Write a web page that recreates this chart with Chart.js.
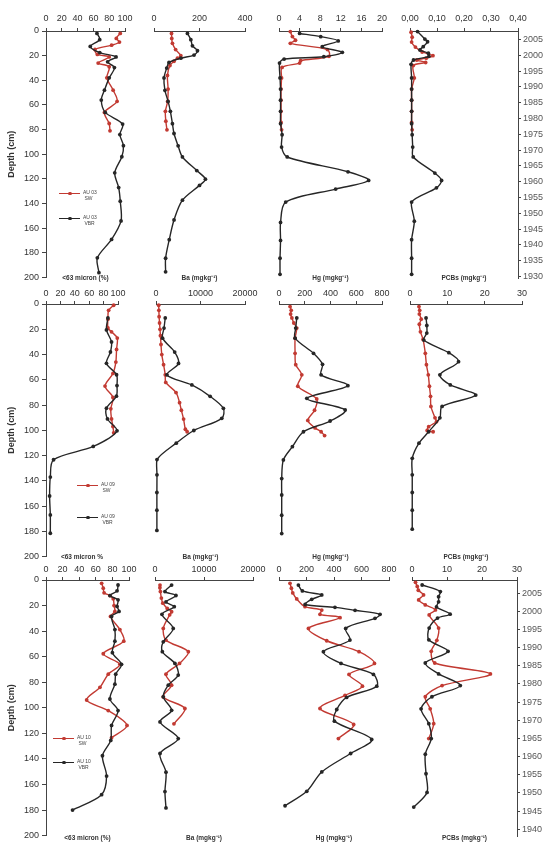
<!DOCTYPE html>
<html>
<head>
<meta charset="utf-8">
<script src="https://cdn.jsdelivr.net/npm/chart.js@4.4.1/dist/chart.umd.min.js"></script>
<style>
  html, body { margin: 0; padding: 0; background: #fff; overflow: hidden; }
  #page { position: relative; width: 544px; height: 843px; font-family: "Liberation Sans", Arial, sans-serif; }
  canvas { position: absolute; }
  .ttl { position: absolute; font-size: 6.5px; font-weight: bold; color: #333; white-space: nowrap; transform: translate(-50%, -50%); }
  .lgline { position: absolute; height: 0; border-top: 1.2px solid; width: 21px; }
  .lgdot { position: absolute; width: 3.5px; height: 3.5px; border-radius: 50%; }
  .lgtxt { position: absolute; font-size: 5px; line-height: 5.5px; color: #444; white-space: nowrap; }
</style>
</head>
<body>
<div id="page"></div>
<script>
// depth (cm), value  -- AU 03
const grain03Sw = [[2,94],[6,89],[9,93],[11.5,83],[15,62],[19,65],[21,80],[26,66],[29,80],[38,77],[48,85],[57,90],[66,74],[75,80],[81,81]];
const grain03Vbr = [[2,64.5],[7,68],[12.5,56],[17.5,68],[21,88.7],[25,78],[29.7,86.6],[38,80],[48,74],[56,70],[66,75],[75.5,97],[84,93.5],[93,98],[102,96],[115,87],[127,92],[138,94],[154,95],[169,83],[184,65],[196,67]];
const ba03Sw = [[2,77],[6,78],[10,81],[15,95],[20,118],[22,103],[24.5,88],[28,70],[36,59],[47,62],[57,60],[65,50],[73,52],[80,57]];
const ba03Vbr = [[2,147],[7,162],[12,169],[16,191],[19.5,176],[22,118],[25.5,66],[30,56],[38,44],[48,48],[57,62],[65,72],[75,81],[83,88],[93,106],[102,125],[113,188],[120,226],[125,200],[137,125],[153,88],[169,67],[184,51],[195,51]];
const hg03Sw = [[0.5,2.2],[4.5,2.6],[7.5,3.2],[10,2.2],[15,9.4],[20.5,9.7],[24,4.2],[26,4.0],[29.5,0.6],[38,0.5],[47,0.4],[56,0.4],[65,0.4],[74,0.4],[80,0.5]];
const hg03Vbr = [[2,4.0],[4.6,8.1],[8,11.5],[12.7,8.4],[17.3,12.3],[20.8,8.7],[22.7,1.0],[26,0.1],[38,0.2],[47,0.3],[56,0.3],[65,0.3],[75,0.3],[84,0.6],[94,0.5],[102,1.6],[114,13.4],[121,17.4],[128,11],[138.5,1.3],[155,0.3],[169.6,0.3],[184,0.2],[197,0.2]];
const pcb03Sw = [[1,0.004],[5,0.008],[9,0.006],[13,0.02],[17,0.045],[20,0.085],[22,0.06],[23.5,0.025],[25.5,0.058],[28,0.012],[38,0.016],[47,0.006],[56,0.006],[65,0.006],[74,0.006],[80,0.008]];
const pcb03Vbr = [[0.5,0.028],[6.5,0.055],[8.7,0.065],[12.7,0.049],[15.4,0.037],[18,0.068],[20.5,0.07],[23.5,0.013],[27,0.004],[38,0.006],[47,0.006],[56,0.006],[65,0.006],[75,0.006],[84,0.008],[94,0.01],[102,0.012],[115,0.092],[121,0.117],[127,0.098],[138.5,0.006],[154,0.016],[169,0.006],[184,0.006],[197,0.006]];

// AU 09
const grain09Sw = [[1,94],[5,87],[12,86],[19,86],[22,91],[27,99],[36,98],[46,97],[55,93],[65,82],[74,93],[83,90],[91,91],[97,93],[102,94]];
const grain09Vbr = [[11,86],[20.5,84],[30,91],[38,89.5],[47,84],[56,98],[64.6,98.6],[73,97.8],[82.5,84],[91,85.4],[100.4,98.6],[112.8,65.6],[123.3,10.5],[137,6],[152,5],[167,6],[181.5,6]];
const ba09Sw = [[1,600],[5,650],[10,700],[15,800],[20,900],[25,1000],[32,1120],[40,1300],[48,1700],[56,2080],[62,2200],[70,4500],[78,5300],[84,5700],[91,6200],[99,6600],[101,7000]];
const ba09Vbr = [[11,2080],[19,1800],[27,1480],[38,4200],[47,5060],[56,2460],[64,8060],[73,12160],[82.5,15140],[90.4,14780],[100,8500],[110,4550],[123,220],[135,220],[149,200],[163,200],[179,200]];
const hg09Sw = [[2,86],[5,95],[8,90],[11,100],[15,115],[19,138],[27,125],[39,125],[48,130],[56,177],[65,146],[75,293],[84,276],[92,224],[98,280],[101,327],[104,354]];
const hg09Vbr = [[11,138],[19,130],[27,125],[39,268],[47.7,338],[56,327],[64.6,535],[74.6,216],[83.8,514],[92.5,397],[101,190],[112.8,104],[123.3,34],[138,21],[151,21],[167,21],[181.5,21]];
const pcb09Sw = [[2,2.4],[5,2.6],[8,2.5],[12,3.0],[16,2.5],[22,2.8],[28,3.5],[39,4.1],[48,4.4],[56,4.9],[65,5.2],[73,5.5],[81,5.6],[90,6.7],[93,7.1],[97,5.0],[100,4.6],[101,6.2]];
const pcb09Vbr = [[11,4.3],[17,4.5],[23,4.5],[28.5,3.7],[38.5,10.4],[45.6,13],[56,8],[64,10.8],[72,17.6],[81,8.6],[90,8],[101,5],[110,2.4],[122,0.6],[135,0.6],[149,0.6],[163,0.6],[178,0.6]];

// AU 10
const grain10Sw = [[2.6,67],[6.4,69],[10,70],[12.2,77],[14.7,81],[20,82],[24.6,83],[28.5,77.7],[38.8,89],[47.9,93.7],[57.7,69],[66,89],[73.7,75],[84,65],[93.9,49],[102.2,75],[113.8,97.6],[123.4,79]];
const grain10Vbr = [[3.9,86.8],[8.5,85.6],[12.2,77],[15.5,86.8],[20.7,85.6],[24.6,88],[28.5,79],[38.8,83],[47.9,83],[56.9,80],[66,91],[73.7,84],[81.5,83],[93.1,77],[102.2,86.8],[113.8,79],[125.5,78],[137.5,68],[153.4,73],[168,67],[180,32]];
const ba10Sw = [[3.9,1020],[6,1000],[9,1100],[14,1300],[18,1600],[22,2500],[24.6,3390],[27,3000],[37.5,1690],[46.6,2240],[55.6,6800],[64.7,5000],[73,2240],[81.5,3390],[90.6,1690],[99.6,6100],[111.5,3870]];
const ba10Vbr = [[3.9,3390],[9,2030],[12,4270],[17,2240],[20.7,3930],[26.6,1420],[37.5,3720],[47.9,1690],[55.6,1500],[64.7,4070],[73.7,4740],[81.5,2710],[90.6,1690],[101,3390],[110,1020],[122.9,4740],[134.5,1020],[149,2240],[164,2030],[176.7,2240]];
const hg10Sw = [[2.6,80],[6.4,90],[10,100],[14.7,129],[20.7,189],[23.3,311],[26.6,298],[29.2,444],[37.5,214],[47.1,347],[55.6,582],[64.7,694],[73.2,509],[82.3,607],[89.5,480],[99.6,298],[112,543],[122.9,432]];
const hg10Vbr = [[3.9,141],[8.5,170],[11.6,311],[15,238],[19,190],[21.2,407],[23.5,553],[26.6,735],[29.7,698],[37.5,485],[46.6,516],[55.6,323],[64.7,451],[73.2,687],[82.3,711],[91,492],[100.4,420],[109.4,403],[123.6,674],[134.5,521],[148.8,311],[163.8,202],[175,44]];
const pcb10Sw = [[1.8,1],[5,1.5],[8,1.8],[11.6,3.3],[15.5,1.9],[19.4,3.8],[23.3,6.7],[27.2,4.9],[37.5,7.6],[47,7.1],[55.6,5.5],[64.7,6.5],[73.2,22.4],[82.3,8.6],[91,3.8],[100.4,5.2],[112,6.2],[123.6,4.8]];
const pcb10Vbr = [[3.9,2.9],[9,8.1],[13,7.6],[17,7.6],[21,7.0],[26.6,10.9],[29.7,7.3],[37.5,4.9],[46.6,4.8],[55.6,10.3],[64.7,3.8],[73.2,7.6],[82.3,13.8],[91,5.7],[100.4,2.6],[112,4.8],[123.6,5.5],[135.8,3.8],[151,4],[165.6,4.3],[177,0.5]];

// year scales on the right
const years03 = [1930,1935,1940,1945,1950,1955,1960,1965,1970,1975,1980,1985,1990,1995,2000,2005];
const years10 = [1940,1945,1950,1955,1960,1965,1970,1975,1980,1985,1990,1995,2000,2005];

const RED = '#c23a32';
const BLACK = '#262626';
const AXIS = '#444';
const page = document.getElementById('page');

Chart.defaults.font.family = "'Liberation Sans', Arial, sans-serif";
Chart.defaults.color = '#333';

const plain = v => String(v);
const comma = v => v.toFixed(2).replace('.', ',');
const toXY = arr => arr.map(([d, v]) => ({ x: v, y: d }));

const rows = [
  { top: 31, bottom: 278, lblPad: 4, padB: 8, core: 'AU 03', legend: [59, 193, 218],
    years: { min: 1929.5, max: 2007.7, ticks: years03 },
    titles: ['<63 micron (%)', 'Ba (mgkg\u207B\u00B9)', 'Hg (mgkg\u207B\u00B9)', 'PCBs (mgkg\u207B\u00B9)'],
    panels: [
      { left: 46, right: 125, max: 100, step: 20, sw: grain03Sw, vbr: grain03Vbr, depthAxis: true },
      { left: 154, right: 245, max: 400, step: 200, sw: ba03Sw, vbr: ba03Vbr },
      { left: 279, right: 382, max: 20, step: 4, sw: hg03Sw, vbr: hg03Vbr },
      { left: 410, right: 518, max: 0.4, step: 0.1, fmt: comma, sw: pcb03Sw, vbr: pcb03Vbr, years: true }
    ] },
  { top: 304, bottom: 557, lblPad: 2, padB: 8, core: 'AU 09', legend: [77, 485, 517],
    titles: ['<63 micron %', 'Ba (mgkg\u207B\u00B9)', 'Hg (mgkg\u207B\u00B9)', 'PCBs (mgkg\u207B\u00B9)'],
    panels: [
      { left: 46, right: 118, max: 100, step: 20, sw: grain09Sw, vbr: grain09Vbr, depthAxis: true },
      { left: 156, right: 245, max: 20000, step: 10000, sw: ba09Sw, vbr: ba09Vbr },
      { left: 279, right: 382, max: 800, step: 200, sw: hg09Sw, vbr: hg09Vbr },
      { left: 410, right: 522, max: 30, step: 10, sw: pcb09Sw, vbr: pcb09Vbr }
    ] },
  { top: 580, bottom: 838, lblPad: 2, padB: 6, core: 'AU 10', legend: [53, 738, 762],
    years: { min: 1938, max: 2008.6, ticks: years10 },
    titles: ['<63 micron (%)', 'Ba (mgkg\u207B\u00B9)', 'Hg (mgkg\u207B\u00B9)', 'PCBs (mgkg\u207B\u00B9)'],
    panels: [
      { left: 46, right: 129, max: 100, step: 20, sw: grain10Sw, vbr: grain10Vbr, depthAxis: true },
      { left: 155, right: 253, max: 20000, step: 10000, sw: ba10Sw, vbr: ba10Vbr },
      { left: 279, right: 389, max: 800, step: 200, sw: hg10Sw, vbr: hg10Vbr },
      { left: 412, right: 517, max: 30, step: 10, sw: pcb10Sw, vbr: pcb10Vbr, years: true }
    ] }
];

function series(data, color) {
  return {
    data: toXY(data),
    showLine: true,
    borderColor: color,
    backgroundColor: color,
    borderWidth: 1.4,
    pointRadius: 1.9,
    pointBorderWidth: 0,
    tension: 0.3,
    clip: false
  };
}

function makePanel(row, p) {
  const xH = 20, yW = 44, yrW = 25;
  const padL = p.depthAxis ? yW + 2 : 22;
  const padR = p.years && row.years ? yrW : 20;
  const padT = xH + 8;
  const w = p.right - p.left, h = row.bottom - row.top;

  const cv = document.createElement('canvas');
  cv.width = w + padL + padR;
  cv.height = h + padT + row.padB;
  cv.style.left = (p.left - padL) + 'px';
  cv.style.top = (row.top - padT) + 'px';
  page.appendChild(cv);

  const scales = {
    x: {
      type: 'linear', position: 'top', min: 0, max: p.max,
      ticks: { stepSize: p.step, padding: row.lblPad, maxRotation: 0, autoSkip: false,
               callback: p.fmt || plain, font: { size: 9 } },
      grid: { drawOnChartArea: false, tickLength: 3, color: AXIS },
      border: { color: AXIS },
      afterFit: s => { s.height = xH; }
    },
    y: {
      type: 'linear', reverse: true, min: 0, max: 200, display: !!p.depthAxis,
      ticks: { stepSize: 20, padding: 3, font: { size: 9 } },
      grid: { drawOnChartArea: false, tickLength: 4, color: AXIS },
      border: { color: AXIS },
      title: { display: true, text: 'Depth (cm)', font: { size: 9, weight: 'bold' }, padding: { top: 4, bottom: 0 } }
    }
  };
  if (p.depthAxis) scales.y.afterFit = s => { s.width = yW; };
  if (p.years && row.years) {
    scales.year = {
      type: 'linear', position: 'right', min: row.years.min, max: row.years.max,
      afterBuildTicks: s => { s.ticks = row.years.ticks.map(v => ({ value: v })); },
      ticks: { padding: 2, color: '#555', font: { size: 9 }, callback: plain },
      grid: { drawOnChartArea: false, tickLength: 3, color: AXIS },
      border: { color: AXIS },
      afterFit: s => { s.width = yrW; }
    };
  }

  new Chart(cv, {
    type: 'scatter',
    data: { datasets: [series(p.vbr, BLACK), series(p.sw, RED)] },
    options: {
      responsive: false,
      animation: false,
      events: [],
      layout: { padding: { left: p.depthAxis ? 2 : padL, right: (p.years && row.years) ? 0 : padR, top: padT - xH, bottom: row.padB } },
      scales,
      plugins: { legend: { display: false }, tooltip: { enabled: false } }
    }
  });
}

function addText(cls, x, y, text) {
  const el = document.createElement('div');
  el.className = cls;
  el.style.left = x + 'px';
  el.style.top = y + 'px';
  el.textContent = text;
  page.appendChild(el);
  return el;
}

function legendItem(x, y, color, core, tag) {
  const line = document.createElement('div');
  line.className = 'lgline';
  line.style.left = x + 'px';
  line.style.top = y + 'px';
  line.style.borderColor = color;
  page.appendChild(line);
  const dot = document.createElement('div');
  dot.className = 'lgdot';
  dot.style.left = (x + 9) + 'px';
  dot.style.top = (y - 1.2) + 'px';
  dot.style.background = color;
  page.appendChild(dot);
  const t = addText('lgtxt', x + 24, y - 3, '');
  t.innerHTML = core + '<br>&nbsp;' + tag;
}

rows.forEach(row => {
  row.panels.forEach((p, i) => {
    makePanel(row, p);
    const cx = (p.left + p.right) / 2;
    addText('ttl', cx, row.bottom - 1, row.titles[i]);
  });
  const [lx, ySw, yVbr] = row.legend;
  legendItem(lx, ySw, RED, row.core, 'SW');
  legendItem(lx, yVbr, BLACK, row.core, 'VBR');
});
</script>
</body>
</html>
